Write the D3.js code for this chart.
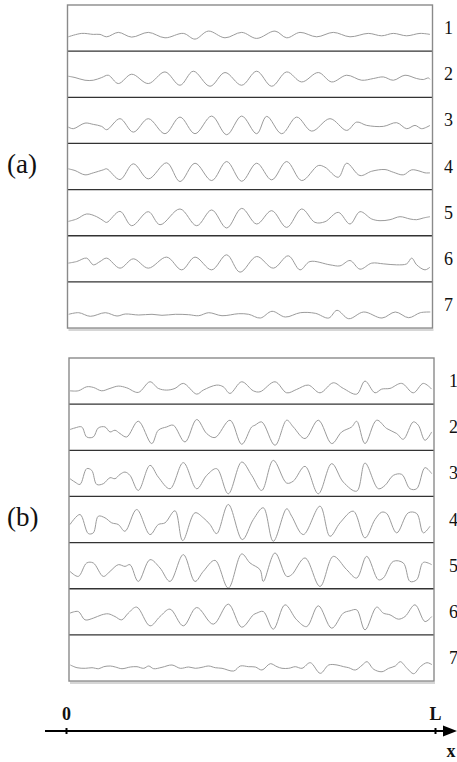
<!DOCTYPE html>
<html>
<head>
<meta charset="utf-8">
<script src="https://cdn.jsdelivr.net/npm/d3@7"></script>
<style>
  body { margin: 0; background: #fff; }
  svg { display: block; font-family: "Liberation Serif", "DejaVu Serif", serif; }
</style>
</head>
<body>
<svg id="chart" width="457" height="762"></svg>
<script>
// strip profiles: [position along the strip (0..365), height above the row's lower line (0..46)]
const a1 = [[0.8,14.3],[14.2,17.7],[25.8,16.7],[32.5,16.7],[39.2,14.3],[50.8,18.7],[64.2,14],[80.8,18.7],[97.5,13.3],[115.8,17.7],[127.5,12],[140.8,20],[157.5,13.3],[174.2,18.7],[189.2,12.7],[207.5,20],[219.2,13.3],[232.5,18.7],[249.2,14.3],[265.8,18.7],[282.5,14.3],[300.8,17.7],[314.2,15.3],[325.8,17.7],[339.2,15.3],[352.5,17.7],[362.5,16.7]];
const a2 = [[0.8,21],[7.5,19.7],[17.5,17],[25.8,17],[34.2,19.7],[40.8,22],[50.8,13.7],[64.2,23],[80.8,13.7],[97.5,25.3],[112.5,12],[125.8,26],[142.5,11],[157.5,24.7],[174.2,12],[189.2,26],[204.2,11],[219.2,25.3],[234.2,15.3],[250.8,24.7],[264.2,15.3],[279.2,22],[294.2,17],[305.8,18.7],[315.8,20.3],[325.8,17],[337.5,22],[349.2,18.7],[355.8,17.7],[360.8,19.3],[362.5,18]];
const a3 = [[0.8,16.3],[5.8,14.7],[17.5,20.3],[25.8,19],[34.2,17],[39.2,13.7],[52.5,24.7],[65.8,11.3],[80.8,24.7],[97.5,9.7],[112.5,26.3],[127.5,9.7],[144.2,27.3],[159.2,8.7],[174.2,27.3],[189.2,9.7],[199.2,27],[214.2,9.7],[229.2,26.3],[244.2,12.3],[262.5,24.7],[279.2,13],[289.2,21.3],[299.2,18],[315.8,17],[329.2,20.7],[339.2,14.7],[347.5,18],[354.2,14.7],[362.5,18]];
const a4 = [[0.8,20.7],[7.5,19],[17.5,14.7],[25.8,16.7],[35.8,19.7],[39.2,20.7],[52.5,10],[65.8,25.7],[80.8,10.7],[99.2,26.7],[112.5,8],[127.5,26.3],[144.2,9],[159.2,28],[174.2,8.3],[189.2,26.3],[204.2,9.7],[219.2,28],[234.2,9],[250.8,24],[257.5,22.3],[270.8,12.3],[279.2,26.3],[292.5,14],[304.2,18.3],[317.5,20],[325.8,17.3],[335.8,14.7],[344.2,19.7],[352.5,18.3],[357.5,16.7],[362.5,16.7]];
const a5 = [[0.8,14.3],[9.2,16.7],[19.2,21.7],[29.2,19],[35.8,15],[39.2,13.3],[52.5,24.3],[64.2,10],[80.8,24],[92.5,11],[112.5,26.7],[129.2,10],[144.2,25.7],[159.2,7.7],[174.2,27.3],[189.2,11.7],[204.2,25],[219.2,8.3],[234.2,26.7],[247.5,13.3],[257.5,14],[270.8,23.3],[282.5,11.7],[292.5,24],[304.2,16.7],[312.5,15],[322.5,16],[332.5,19],[342.5,16.7],[349.2,16],[355.8,17.7],[362.5,19]];
const a6 = [[0.8,18.7],[9.2,20.3],[19.2,23.7],[25.8,17],[32.5,20.3],[39.2,23.7],[52.5,13.7],[65.8,23],[80.8,13.7],[99.2,24.7],[114.2,12],[127.5,24.7],[144.2,12],[159.2,27],[172.5,9.7],[189.2,25.3],[205.8,13.7],[220.8,26],[232.5,12],[242.5,20.3],[262.5,17],[272.5,16],[282.5,21.3],[292.5,12.7],[304.2,18.7],[315.8,18],[329.2,17],[339.2,18],[344.2,23.7],[349.2,17],[357.5,12],[362.5,14.7]];
const a7 = [[1.2,13.7],[11.2,15.3],[22.8,11.7],[37.8,15.3],[49.5,12],[57.8,14],[71.2,13],[84.5,13.7],[94.5,12.7],[107.8,13.7],[121.2,13.3],[131.2,12.3],[141.2,15.3],[154.5,12.3],[171.2,14.3],[181.2,13.7],[192.8,10],[204.5,16.7],[217.8,11],[232.8,15.3],[247.8,14.7],[261.2,10],[269.5,17.7],[281.2,9.3],[296.2,16],[314.5,10],[327.8,16],[341.2,10.3],[352.8,15.3],[362.8,16]];

const b1 = [[1,13.3],[9.3,13.3],[17.7,17.3],[24.3,16.7],[32.7,13.3],[41,15.7],[49.3,18],[57.7,16.3],[69.3,11.7],[81,22.3],[89.3,15.7],[97.7,14],[106,15.7],[114.3,20.7],[127.7,10],[134.3,14],[147.7,19],[154.3,17.3],[161,10.7],[172.7,22.3],[184.3,13.3],[191,12.3],[206,22.3],[217.7,11.3],[227.7,14.7],[239.3,19],[251,11.3],[264.3,21.3],[274.3,15.7],[287.7,10],[296,23],[306,11.3],[312.7,15],[321,15.7],[332.7,20.7],[344.3,11.3],[354.3,20.7],[362.7,15]];
const b2 = [[1,20.7],[6,22.3],[12.7,23.3],[17.7,13.3],[24.3,13.3],[29.3,22.3],[36,23.3],[41,18.3],[46,20],[51,16.7],[57.7,13.3],[69.3,29],[82.7,6.7],[89.3,20],[97.7,23.3],[104.3,25],[116,8.3],[127.7,30.7],[137.7,16.7],[146,12.7],[161,30],[172.7,6],[182.7,23.3],[186,25],[192.7,28.3],[206,5],[217.7,30],[224.3,23.3],[236,11.7],[249.3,30],[262.7,6.7],[272.7,18.3],[282.7,23.3],[287.7,29],[296,6.7],[307.7,30],[317.7,21.7],[327.7,16.7],[334.3,11],[344.3,28.3],[349.3,25],[356,10],[362.7,18.3]];
const b3 = [[1,17.7],[6,14.3],[11,12],[17.7,27.7],[22.7,26],[27.7,12],[34.3,12.7],[41,18.7],[46,17.7],[51,22],[56,24.3],[61,21],[69.3,6],[81,31],[89.3,19.3],[101,7.7],[114.3,33.7],[127.7,7.7],[137.7,21],[147.7,27.7],[159.3,2.7],[172.7,34.3],[182.7,21],[192.7,6],[204.3,36],[217.7,13.3],[224.3,15.3],[236,30],[249.3,2.7],[262.7,32.7],[274.3,14.3],[287.7,5.3],[296,33.3],[309.3,7.7],[316,11],[324.3,21],[332.7,22],[341,7.7],[347.7,7.7],[356,28.7],[362.7,22.7]];
const b4 = [[1,18],[11,28],[19.3,9],[24.3,9.7],[29.3,26.3],[36,24.7],[42.7,19.7],[49.3,18],[56,11.3],[67.7,33],[81,8],[89.3,18],[96,19.7],[106,31.7],[113.7,2],[126,29.7],[134.3,24.7],[141,18],[147.7,9],[159.3,38],[173.3,3],[184.3,23],[194.3,34.7],[204.3,1.3],[217.7,33.7],[222.7,26.3],[234.3,8],[251,36.3],[261,6.3],[271,19.7],[284.3,31.3],[296,4.7],[306,23],[312.7,30.3],[317.7,29],[327.7,9.7],[339.3,29.7],[347.7,29],[354.3,9.7],[361,16.3]];
const b5 = [[1,17.3],[9.3,12.3],[17.7,25.7],[24.3,25.7],[34.3,12.3],[41,17.3],[49.3,24],[56,22.3],[61,24],[69.3,7.3],[81,29],[91,20.7],[101,7.3],[114.3,34],[126,7.3],[134.3,17.3],[146,28.3],[159.3,0.7],[172.7,34.7],[181,25.7],[191,19],[194.3,7.3],[206,35.7],[217.7,12.3],[222.7,14],[236,30.7],[251,2.3],[264.3,32.3],[277.7,19],[287.7,10.7],[297.7,32.3],[309.3,9],[314.3,10.7],[324.3,27.3],[334.3,25.7],[341,7.3],[347.7,9],[354.3,26.3],[362.7,24]];
const b6 = [[1,21.7],[9.3,23.3],[16,15],[24.3,16.7],[32.7,20],[39.3,21],[46,18.3],[52.7,15],[59.3,21.7],[67.7,27.7],[81,9],[91,18.3],[101,25.7],[114.3,9],[127.7,27.3],[144.3,10.7],[159.3,30.7],[172.7,7.7],[184.3,20],[187.7,21.7],[194.3,23.3],[204.3,5.7],[216,30],[227.7,15],[237.7,8.3],[249.3,29],[262.7,6.7],[274.3,21.7],[281,24],[287.7,25],[296,5],[307.7,27.7],[314.3,21.7],[321,20],[329.3,15.7],[336,18.3],[346,30],[356,13.3],[362.7,18.3]];
const b7 = [[1.3,16],[8,13.3],[16.3,12.7],[23,13.3],[29.7,12.3],[34.7,14.3],[41.3,15],[46.3,14],[53,12.3],[61.3,14],[68,14.3],[74.7,12.7],[79.7,15],[84.7,12.3],[93,13.7],[103,16],[111.3,12.7],[119.7,14],[126.3,12.7],[133,13.7],[139.7,15],[146.3,13.3],[153,12.7],[164.7,10],[171.3,15],[179.7,14.3],[186.3,14],[193,11],[201.3,17.3],[208,14.3],[213,12.7],[219.7,12.7],[226.3,14.3],[233,12.7],[241.3,18.3],[251.3,7.7],[259.7,16],[268,16],[274.7,14.3],[279.7,13.3],[286.3,11],[293,15.7],[298,19.3],[304.7,11.7],[313,9.3],[319.7,12.7],[326.3,15],[331.3,19.3],[338,12.7],[344.7,7.3],[351.3,14.3],[358,18.3],[363,16.3]];

const rowLabels = ["1", "2", "3", "4", "5", "6", "7"];
const panelLabels = ["(a)", "(b)"];
const axisTicks = [0, 1];
const axisTickLabels = ["0", "L"];
const axisTitle = "x";

const svg = d3.select('#chart');

const stripW = 365;
const rowH = 46.15;

const panels = [
  { label: panelLabels[0], rows: [a1, a2, a3, a4, a5, a6, a7], left: 67.5, top: 5, numX: 444 },
  { label: panelLabels[1], rows: [b1, b2, b3, b4, b5, b6, b7], left: 69, top: 358, numX: 449 }
];

// scales shared by every strip
const x = d3.scaleLinear().domain([0, 365]).range([0, stripW]);
const y = d3.scaleLinear().domain([0, 46]).range([rowH, 0]);

const line = d3.line()
  .x(d => x(d[0]))
  .y(d => y(d[1]))
  .curve(d3.curveCatmullRom.alpha(0.5));

panels.forEach(p => {
  const g = svg.append('g').attr('transform', `translate(${p.left},${p.top})`);
  const H = rowH * p.rows.length;

  // faint shadow under the frame
  g.append('line')
    .attr('x1', 1).attr('x2', stripW + 1)
    .attr('y1', H + 2).attr('y2', H + 2)
    .attr('stroke', '#d6d6d6')
    .attr('stroke-width', 2);

  p.rows.forEach((r, i) => {
    const row = g.append('g').attr('transform', `translate(0,${i * rowH})`);

    row.append('path')
      .datum(r)
      .attr('d', line)
      .attr('fill', 'none')
      .attr('stroke', '#9b9b9b')
      .attr('stroke-width', 1);

    if (i > 0) {
      row.append('line')
        .attr('x1', 0).attr('x2', stripW)
        .attr('y1', 0).attr('y2', 0)
        .attr('stroke', '#333')
        .attr('stroke-width', 1.3);
    }

    svg.append('text')
      .attr('x', p.numX)
      .attr('y', p.top + i * rowH + rowH / 2 + 6)
      .style('font-size', '18px')
      .style('fill', '#111')
      .text(rowLabels[i]);
  });

  // outer frame
  g.append('rect')
    .attr('x', 0).attr('y', 0)
    .attr('width', stripW).attr('height', H)
    .attr('fill', 'none')
    .attr('stroke', '#8a8a8a')
    .attr('stroke-width', 1.4);

  svg.append('text')
    .attr('x', 7)
    .attr('y', p.top + H / 2 + 6)
    .style('font-size', '27px')
    .style('fill', '#111')
    .text(p.label);
});

// x axis with arrow
const xAxis = d3.scaleLinear().domain([0, 1]).range([66, 435]);
const axY = 731;

svg.append('line')
  .attr('x1', 45).attr('x2', 448)
  .attr('y1', axY).attr('y2', axY)
  .attr('stroke', '#000')
  .attr('stroke-width', 2);

svg.append('path')
  .attr('d', `M443,${axY - 5.5}L457,${axY}L443,${axY + 5.5}Z`)
  .attr('fill', '#000');

const axG = svg.append('g')
  .attr('transform', `translate(0,${axY})`)
  .call(d3.axisTop(xAxis)
    .tickValues(axisTicks)
    .tickFormat((d, i) => axisTickLabels[i])
    .tickSize(3)
    .tickPadding(8));

axG.select('.domain').remove();
axG.selectAll('.tick line')
  .attr('y1', 3)
  .attr('stroke', '#000')
  .attr('stroke-width', 2);
axG.selectAll('.tick text')
  .style('font-family', '"Liberation Serif", serif')
  .style('font-size', '18px')
  .style('font-weight', 'bold')
  .style('fill', '#111');

svg.append('text')
  .attr('x', 451)
  .attr('y', 757)
  .attr('text-anchor', 'middle')
  .style('font-size', '18px')
  .style('font-weight', 'bold')
  .style('fill', '#111')
  .text(axisTitle);
</script>
</body>
</html>
